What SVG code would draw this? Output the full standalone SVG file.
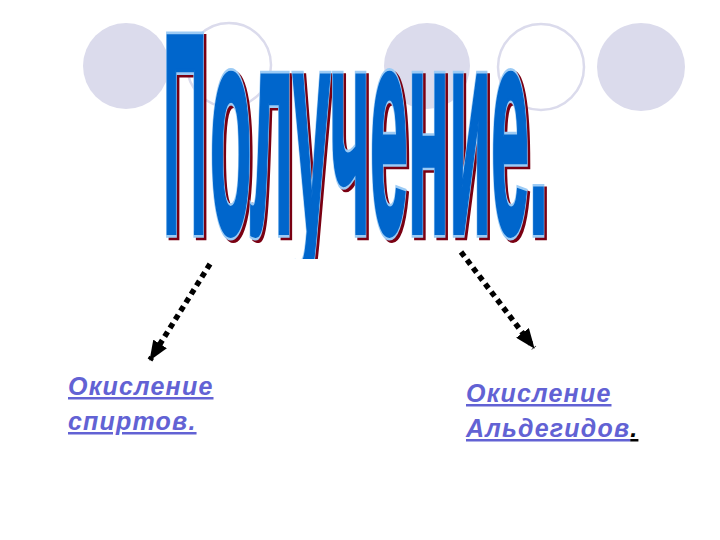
<svg xmlns="http://www.w3.org/2000/svg" width="720" height="540" viewBox="0 0 720 540">
  <style>
    .dot { fill: #DBDBEC; }
    .ring { fill: none; stroke: #DBDBEC; stroke-width: 2.5; }
    .tt { font-family: "Liberation Sans", Arial, sans-serif; font-weight: bold; font-size: 100px; }
    .shadow { fill: #7A0012; stroke: #7A0012; stroke-width: 7; }
    .outline { fill: #9CCBF5; stroke: #9CCBF5; stroke-width: 7; }
    .face { fill: #0066CC; stroke: #0066CC; stroke-width: 3; }
    .lbl { font-family: "Liberation Sans", Arial, sans-serif; font-weight: bold; font-style: italic; font-size: 25px; letter-spacing: 1.2px; fill: #6262D4; }
    .conn { fill: none; stroke: #000; stroke-width: 5.5; stroke-dasharray: 5.5 4.5; }
  </style>
  <defs>
    <marker id="head" viewBox="0 0 20 16" refX="19" refY="8" markerWidth="20" markerHeight="16" markerUnits="userSpaceOnUse" orient="auto">
      <path d="M0,0 L20,8 L0,16 Z" fill="#000"/>
    </marker>
    <clipPath id="titleClip">
      <rect x="0" y="0" width="720" height="259"/>
    </clipPath>
    <text id="tP" class="tt" vector-effect="non-scaling-stroke" transform="translate(163,233) scale(1,2.86)" textLength="44" lengthAdjust="spacingAndGlyphs">П</text>
    <text id="tRest" class="tt" vector-effect="non-scaling-stroke" transform="translate(210,233) scale(1,2.98)" textLength="338" lengthAdjust="spacingAndGlyphs">олучение.</text>
  </defs>
  <rect width="720" height="540" fill="#FFFFFF"/>

  <g id="decor">
    <circle class="dot" cx="126" cy="66" r="43"/>
    <circle class="ring" cx="229" cy="65" r="42"/>
    <circle class="dot" cx="427" cy="66" r="43"/>
    <circle class="ring" cx="541" cy="67" r="43"/>
    <circle class="dot" cx="641" cy="67" r="44"/>
  </g>

  <g id="title" clip-path="url(#titleClip)">
    <g class="shadow" transform="translate(2.5,2.5)">
      <use href="#tP"/>
      <use href="#tRest"/>
    </g>
    <g class="outline">
      <use href="#tP"/>
      <use href="#tRest"/>
    </g>
    <g class="face">
      <use href="#tP"/>
      <use href="#tRest"/>
    </g>
  </g>

  <g id="connectors">
    <line class="conn" x1="210" y1="264" x2="150" y2="360" marker-end="url(#head)"/>
    <line class="conn" x1="461" y1="252" x2="534" y2="348" marker-end="url(#head)"/>
  </g>

  <g id="node-alcohols">
    <text class="lbl" x="68" y="395" text-decoration="underline">Окисление</text>
    <text class="lbl" x="68" y="430" text-decoration="underline">спиртов.</text>
  </g>

  <g id="node-aldehydes">
    <text class="lbl" x="466" y="402" text-decoration="underline">Окисление</text>
    <text class="lbl" x="466" y="437"><tspan text-decoration="underline">Альдегидов</tspan><tspan fill="#000" text-decoration="underline">.</tspan></text>
  </g>
</svg>
